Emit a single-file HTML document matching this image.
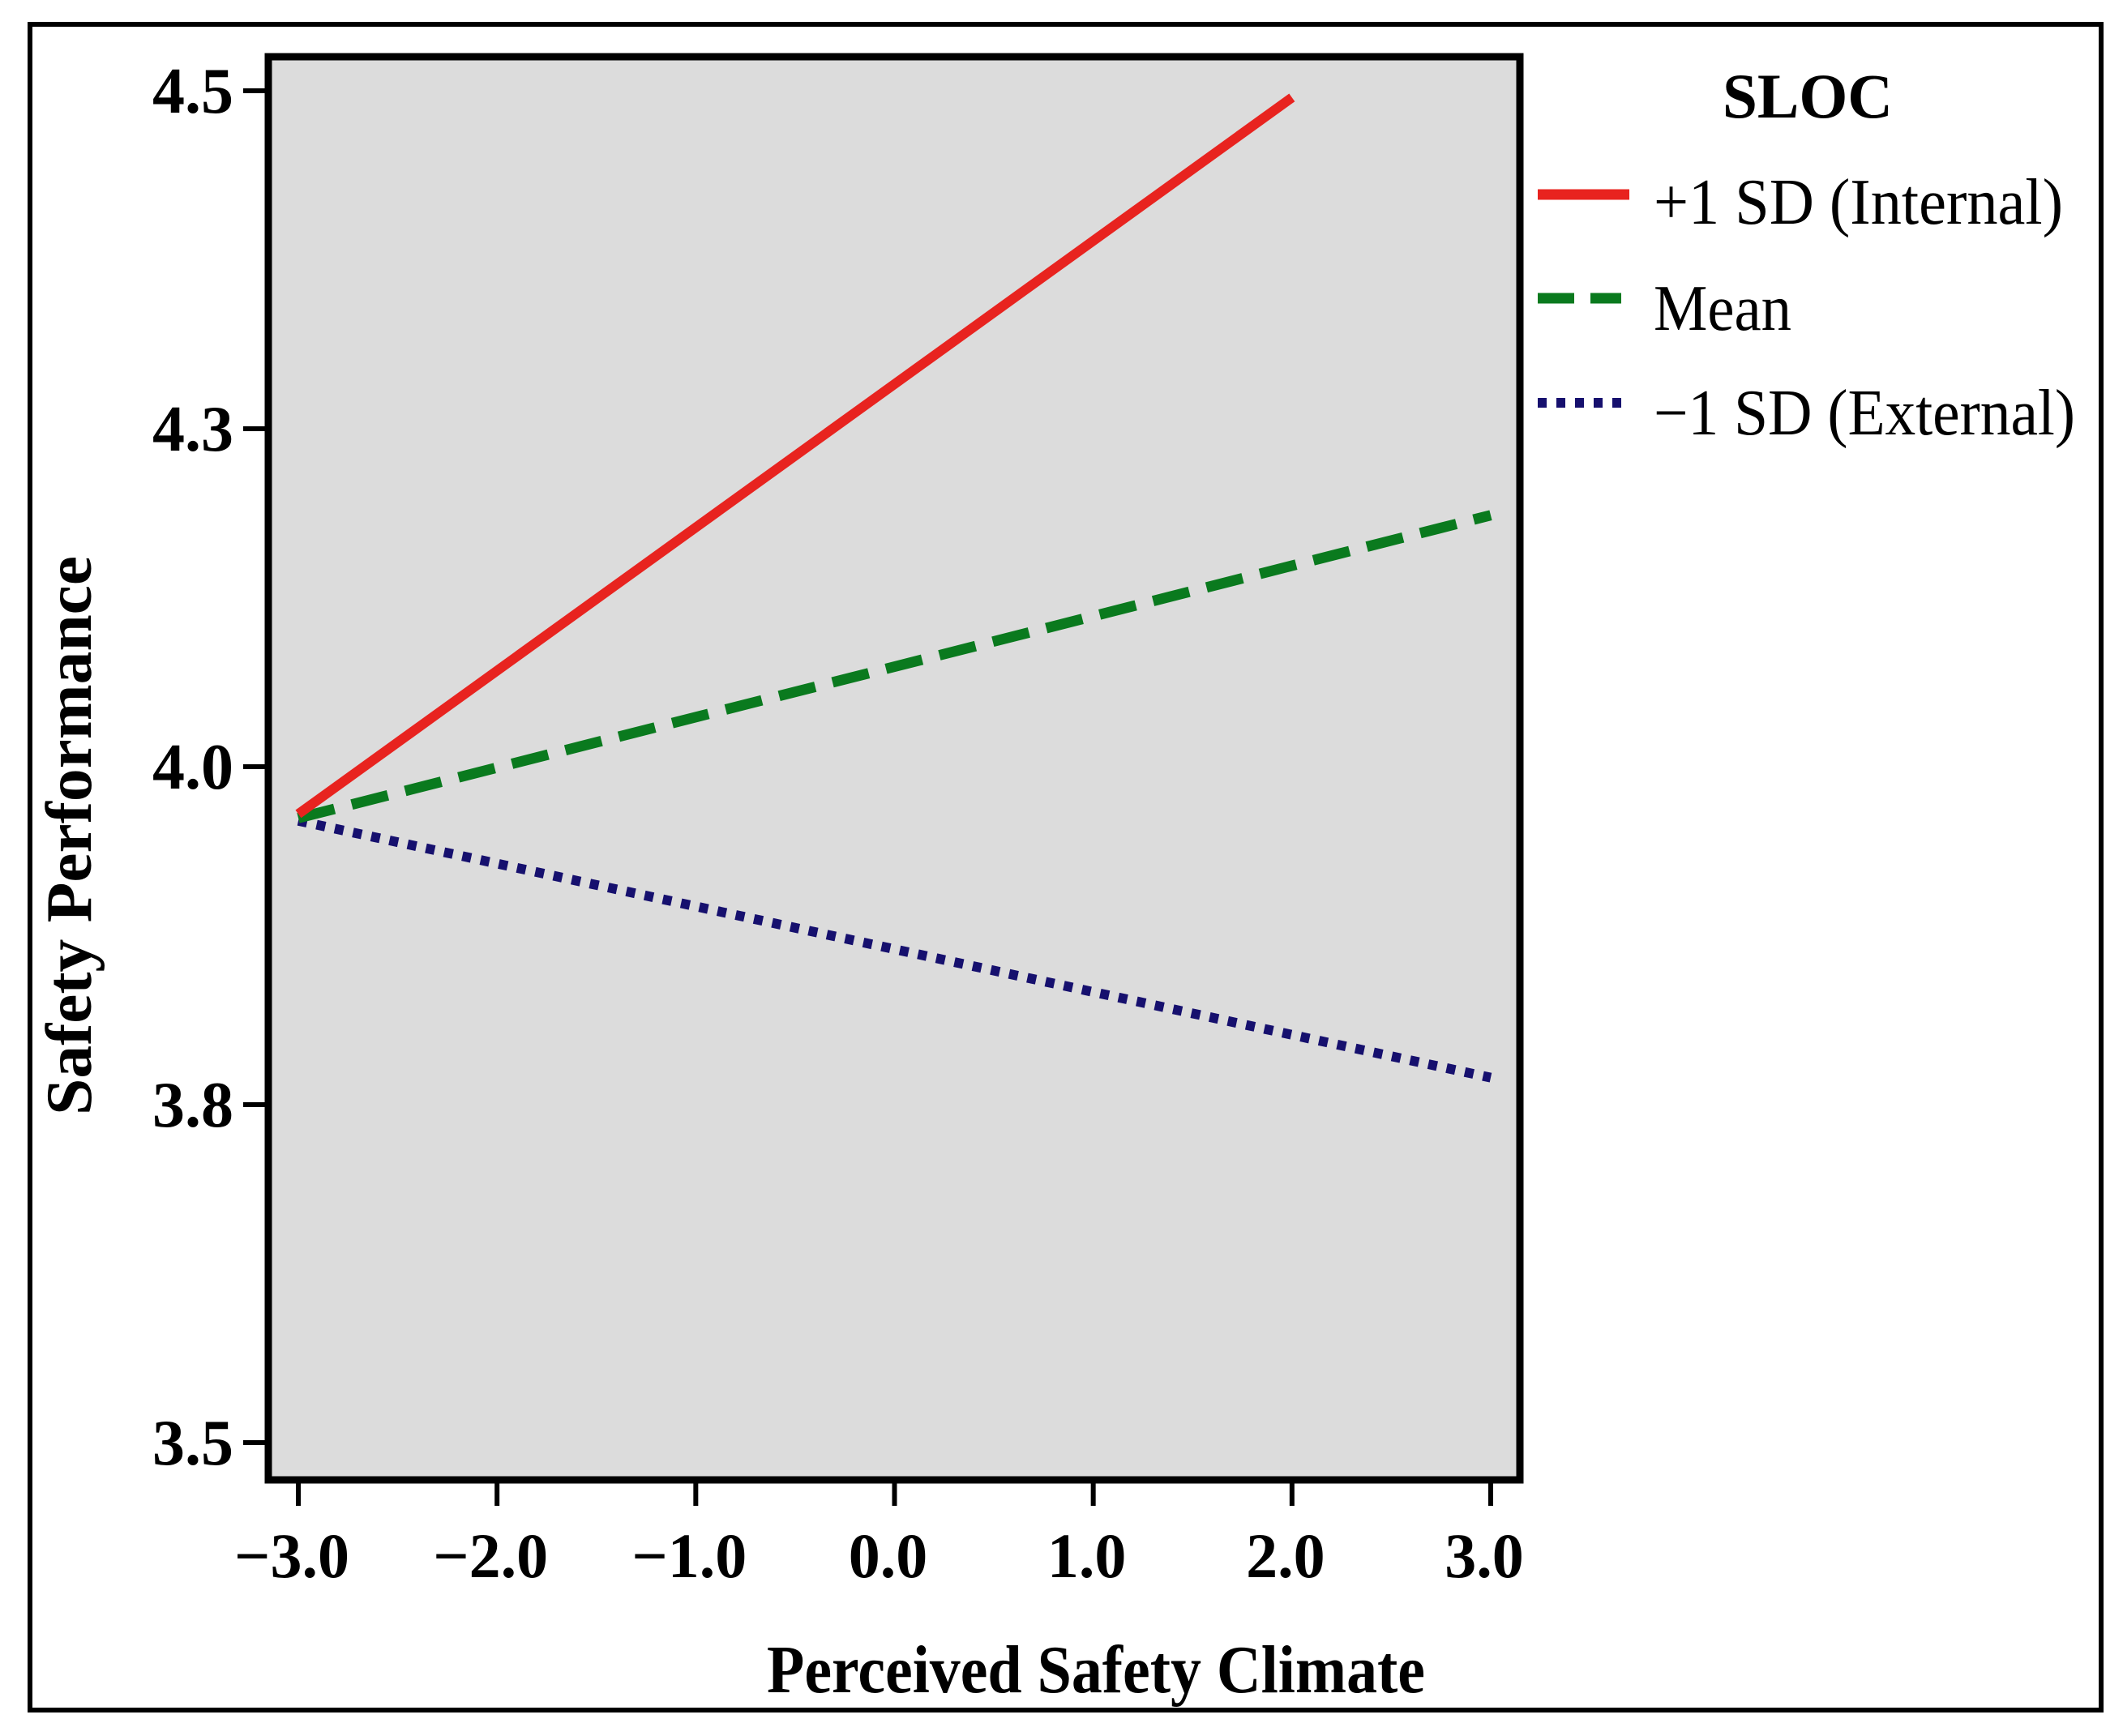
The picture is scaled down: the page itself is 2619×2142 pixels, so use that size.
<!DOCTYPE html>
<html><head><meta charset="utf-8"><style>
html,body{margin:0;padding:0;background:#fff;}
svg{display:block;}
text{font-family:"Liberation Serif",serif;fill:#000;}
</style></head><body>
<svg id="chart" width="2619" height="2142" viewBox="0 0 2619 2142">
<rect x="37" y="30" width="2555" height="2080" fill="#fff" stroke="#000" stroke-width="6"/>
<rect x="331" y="70" width="1544" height="1756" fill="#dcdcdc"/>
<g id="marks"></g>
<rect x="331" y="70" width="1544" height="1756" fill="none" stroke="#000" stroke-width="9"/>
<g id="axes"></g>
<text x="1352" y="2088" font-size="84" font-weight="bold" text-anchor="middle" textLength="812" lengthAdjust="spacingAndGlyphs">Perceived Safety Climate</text>
<text transform="translate(112,1031) rotate(-90)" font-size="80" font-weight="bold" text-anchor="middle" textLength="690" lengthAdjust="spacingAndGlyphs">Safety Performance</text>
<g>
<text x="2230" y="145" font-size="78" font-weight="bold" text-anchor="middle" textLength="210" lengthAdjust="spacingAndGlyphs">SLOC</text>
<line x1="1897" y1="240" x2="2010" y2="240" stroke="#e8231f" stroke-width="13"/>
<text x="2040" y="276" font-size="80" textLength="505" lengthAdjust="spacingAndGlyphs">+1 SD (Internal)</text>
<line x1="1897" y1="368" x2="2000" y2="368" stroke="#0a7a1e" stroke-width="13" stroke-dasharray="45,20"/>
<text x="2040" y="407" font-size="80" textLength="170" lengthAdjust="spacingAndGlyphs">Mean</text>
<line x1="1897" y1="497" x2="2000" y2="497" stroke="#16106e" stroke-width="12" stroke-dasharray="11,12"/>
<text x="2040" y="536" font-size="80" textLength="520" lengthAdjust="spacingAndGlyphs">−1 SD (External)</text>
</g>
</svg>
<script>
const xTicks = [-3, -2, -1, 0, 1, 2, 3];
const xTickLabels = ["\u22123.0", "\u22122.0", "\u22121.0", "0.0", "1.0", "2.0", "3.0"];
const yTicks = [4.5, 4.25, 4.0, 3.75, 3.5];
const yTickLabels = ["4.5", "4.3", "4.0", "3.8", "3.5"];
const seriesNames = ["internal", "mean", "external"];
const internalX = [-3, 2];
const internalY = [3.965, 4.495];
const meanX = [-3, 3];
const meanY = [3.962, 4.186];
const externalX = [-3, 3];
const externalY = [3.96, 3.77];

const NS = "http://www.w3.org/2000/svg";
function xs(v){ return 368 + (v + 3) * (1839 - 368) / 6; }
function ys(v){ return 1780 - (v - 3.5) * (1780 - 112) / 1.0; }
const axes = document.getElementById('axes');
const marks = document.getElementById('marks');

xTicks.forEach((t, i) => {
  const l = document.createElementNS(NS, 'line');
  l.setAttribute('x1', xs(t)); l.setAttribute('x2', xs(t));
  l.setAttribute('y1', 1830); l.setAttribute('y2', 1858);
  l.setAttribute('stroke', '#000'); l.setAttribute('stroke-width', 6);
  
  
  axes.appendChild(l);
  const tx = document.createElementNS(NS, 'text');
  tx.setAttribute('x', xs(t) - 8); tx.setAttribute('y', 1946);
  tx.setAttribute('font-size', 78); tx.setAttribute('font-weight', 'bold');
  tx.setAttribute('text-anchor', 'middle');
  tx.textContent = xTickLabels[i];
  
  
  axes.appendChild(tx);
});
yTicks.forEach((t, i) => {
  const l = document.createElementNS(NS, 'line');
  l.setAttribute('x1', 300); l.setAttribute('x2', 331);
  l.setAttribute('y1', ys(t)); l.setAttribute('y2', ys(t));
  l.setAttribute('stroke', '#000'); l.setAttribute('stroke-width', 6);
  
  
  axes.appendChild(l);
  const tx = document.createElementNS(NS, 'text');
  tx.setAttribute('x', 288); tx.setAttribute('y', ys(t) + 27);
  tx.setAttribute('font-size', 80); tx.setAttribute('font-weight', 'bold');
  tx.setAttribute('text-anchor', 'end');
  tx.textContent = yTickLabels[i];
  
  
  axes.appendChild(tx);
});

function drawLine(X, Y, color, width, dash, name){
  const p = document.createElementNS(NS, 'polyline');
  p.setAttribute('points', X.map((x, i) => xs(x) + ',' + ys(Y[i])).join(' '));
  p.setAttribute('fill', 'none');
  p.setAttribute('stroke', color);
  p.setAttribute('stroke-width', width);
  if (dash) p.setAttribute('stroke-dasharray', dash);
  
  
  marks.appendChild(p);
}
drawLine(externalX, externalY, '#16106e', 12, '11,12', 'line-external');
drawLine(meanX, meanY, '#0a7a1e', 13, '46,22', 'line-mean');
drawLine(internalX, internalY, '#e8231f', 12, null, 'line-internal');
</script>
</body></html>
